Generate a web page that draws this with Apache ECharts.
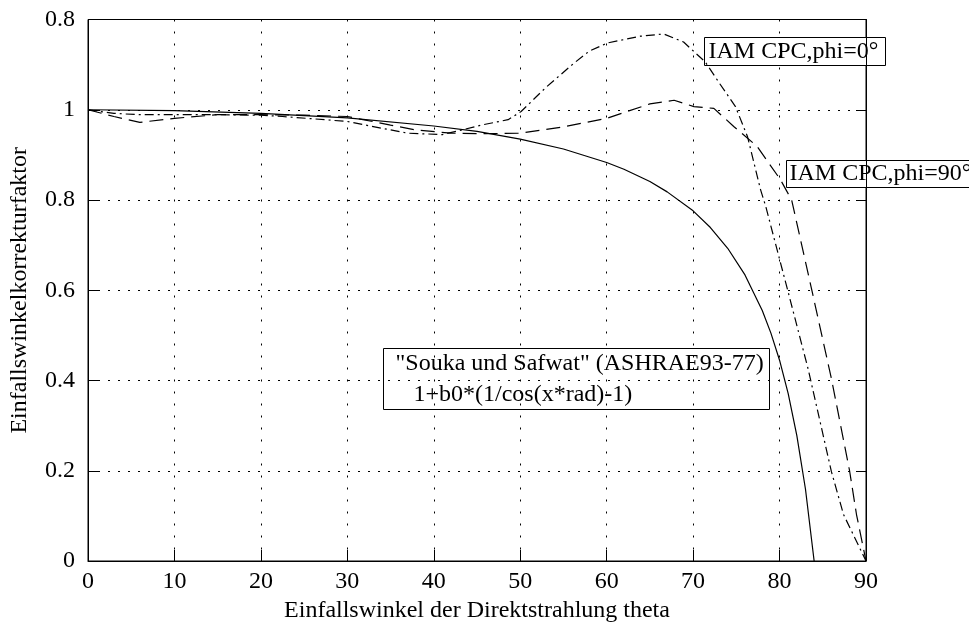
<!DOCTYPE html>
<html>
<head>
<meta charset="utf-8">
<script src="https://cdn.jsdelivr.net/npm/echarts@6/dist/echarts.min.js"></script>
<style>
  html, body { margin: 0; padding: 0; background: #fff; }
  #chart { width: 969px; height: 628px; }
</style>
</head>
<body>
<div id="chart"></div>
<script>
// Achsenbeschriftungen
const xTicks = ['0', '10', '20', '30', '40', '50', '60', '70', '80', '90']
const yTicks = ['0', '0.2', '0.4', '0.6', '0.8', '1', '0.8']

// Souka und Safwat (ASHRAE93-77)
const souka = [
  [0, 1.0], [10, 0.998], [20, 0.992], [30, 0.982], [40, 0.964], [45, 0.952],
  [50, 0.935], [55, 0.913], [60, 0.883], [62, 0.868], [65, 0.841], [67, 0.818],
  [70, 0.776], [72, 0.739], [74, 0.693], [76, 0.634], [78, 0.555], [79, 0.505],
  [80, 0.445], [81, 0.371], [82, 0.278], [83, 0.159], [84, 0.0]
]

// IAM CPC, phi = 0°
const cpcPhi0 = [
  [0, 1.0], [3, 0.992], [6, 0.989], [10, 0.989], [15, 0.989], [20, 0.988],
  [22.5, 0.985], [26, 0.98], [30, 0.974], [34, 0.959], [37, 0.948], [41, 0.945],
  [43.2, 0.955], [45.5, 0.966], [48.6, 0.978], [50.1, 0.996], [53, 1.05],
  [56.2, 1.103], [58, 1.13], [60.1, 1.148], [63.9, 1.163], [66.6, 1.168],
  [68.9, 1.15], [71.4, 1.106], [73, 1.06], [74.9, 1.007], [76.3, 0.94],
  [77.8, 0.823], [78.4, 0.786], [80.9, 0.603], [83.3, 0.426], [86, 0.198],
  [87.4, 0.103], [90, 0.0]
]

// IAM CPC, phi = 90°
const cpcPhi90 = [
  [0, 1.0], [3, 0.985], [6, 0.972], [10, 0.981], [15, 0.989], [20, 0.989],
  [25, 0.988], [30, 0.985], [35, 0.966], [38, 0.955], [42, 0.948], [46, 0.947],
  [50, 0.948], [55, 0.962], [60, 0.981], [65, 1.013], [67.8, 1.021],
  [70.1, 1.007], [72.4, 1.003], [74.7, 0.963], [77.4, 0.919], [80.1, 0.845],
  [81.4, 0.8], [83.7, 0.603], [86, 0.404], [88.1, 0.2], [88.9, 0.103], [90, 0.0]
]

const font = 'Liberation Serif'
const chart = echarts.init(document.getElementById('chart'))

const lineStyle = (type) => ({ color: '#000', width: 1.2, type: type })

chart.setOption({
  animation: false,
  backgroundColor: '#fff',
  textStyle: { fontFamily: font, color: '#000' },
  grid: {
    left: 85, right: 103, top: 19.5, bottom: 64.5,
    show: true, borderColor: '#000', borderWidth: 1
  },
  xAxis: {
    type: 'value', min: 0, max: 90, interval: 10,
    name: 'Einfallswinkel der Direktstrahlung theta',
    nameLocation: 'middle', nameGap: 38,
    nameTextStyle: { fontFamily: font, fontSize: 24, color: '#000' },
    axisLine: { lineStyle: { color: '#000', width: 1 } },
    axisTick: { inside: true, length: 11, lineStyle: { color: '#000' } },
    axisLabel: {
      fontFamily: font, fontSize: 24, color: '#000', margin: 9,
      formatter: (v) => xTicks[Math.round(v / 10)]
    },
    splitLine: { show: true, lineStyle: { color: '#000', type: [2, 10], width: 1 } }
  },
  yAxis: [
    {
      type: 'value', min: 0, max: 1.2, interval: 0.2,
      name: 'Einfallswinkelkorrekturfaktor',
      nameLocation: 'middle', nameGap: 56, nameRotate: 90,
      nameTextStyle: { fontFamily: font, fontSize: 24, color: '#000' },
      axisLine: { show: true, lineStyle: { color: '#000', width: 1 } },
      axisTick: { show: true, inside: true, length: 10, lineStyle: { color: '#000' } },
      axisLabel: {
        fontFamily: font, fontSize: 24, color: '#000', margin: 13,
        formatter: (v) => yTicks[Math.round(v / 0.2)]
      },
      splitLine: { show: true, lineStyle: { color: '#000', type: [2, 8], width: 1 } }
    },
    {
      type: 'value', min: 0, max: 1.2, interval: 0.2, position: 'right',
      axisLine: { show: true, lineStyle: { color: '#000', width: 1 } },
      axisTick: { show: true, inside: true, length: 10, lineStyle: { color: '#000' } },
      axisLabel: { show: false },
      splitLine: { show: false }
    }
  ],
  series: [
    {
      name: 'Souka und Safwat', type: 'line', data: souka,
      showSymbol: false, lineStyle: lineStyle('solid')
    },
    {
      name: 'IAM CPC,phi=0°', type: 'line', data: cpcPhi0,
      showSymbol: false, lineStyle: lineStyle([9, 4, 2, 4])
    },
    {
      name: 'IAM CPC,phi=90°', type: 'line', data: cpcPhi90,
      showSymbol: false, lineStyle: lineStyle([14, 7])
    }
  ],
  graphic: [
    {
      type: 'group', left: 704, top: 37, z: 100,
      children: [
        { type: 'rect', shape: { x: 0, y: 0, width: 181, height: 28 },
          style: { fill: '#fff', stroke: '#000', lineWidth: 1 } },
        { type: 'text', x: 4, y: 14,
          style: { text: 'IAM CPC,phi=0°', font: '24px "Liberation Serif"', fill: '#000', verticalAlign: 'middle' } }
      ]
    },
    {
      type: 'group', left: 786, top: 160, z: 100,
      children: [
        { type: 'rect', shape: { x: 0, y: 0, width: 186, height: 27 },
          style: { fill: '#fff', stroke: '#000', lineWidth: 1 } },
        { type: 'text', x: 3, y: 13.5,
          style: { text: 'IAM CPC,phi=90°', font: '24px "Liberation Serif"', fill: '#000', verticalAlign: 'middle' } }
      ]
    },
    {
      type: 'group', left: 383, top: 348, z: 100,
      children: [
        { type: 'rect', shape: { x: 0, y: 0, width: 386, height: 61 },
          style: { fill: '#fff', stroke: '#000', lineWidth: 1 } },
        { type: 'text', x: 12, y: 15,
          style: { text: '"Souka und Safwat" (ASHRAE93-77)', font: '24px "Liberation Serif"', fill: '#000', verticalAlign: 'middle' } },
        { type: 'text', x: 30, y: 46,
          style: { text: '1+b0*(1/cos(x*rad)-1)', font: '24px "Liberation Serif"', fill: '#000', verticalAlign: 'middle' } }
      ]
    }
  ]
})
</script>
</body>
</html>
